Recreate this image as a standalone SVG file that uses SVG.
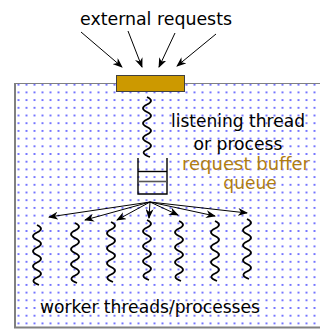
<svg xmlns="http://www.w3.org/2000/svg" width="320" height="330" viewBox="0 0 320 330">
<style>
text{font-family:"DejaVu Sans","Liberation Sans",sans-serif;font-size:17px;fill:#000}
.conn{stroke:#000;stroke-width:1;fill:none;marker-end:url(#ah)}
.sq{stroke:#000;stroke-width:1.8;fill:none}
.q{stroke:#000;stroke-width:1.4;fill:none}
.border{stroke:#808080;fill:none}
.gold{fill:#b07d12}
</style>
<defs>
<pattern id="dots" patternUnits="userSpaceOnUse" x="14.5" y="80.85" width="8" height="7.7">
<circle cx="4" cy="3.85" r="1" fill="#4646ff"/>
</pattern>
<marker id="ah" markerWidth="10" markerHeight="8" refX="9" refY="4" orient="auto" markerUnits="userSpaceOnUse">
<path d="M0,0 L10,4 L0,8 L3,4 Z" fill="#000"/>
</marker>
</defs>
<rect x="0" y="0" width="320" height="330" fill="#fff"/>
<g id="region">
<rect x="16" y="84" width="304" height="242" fill="url(#dots)"/>
<line class="border" x1="15" y1="83.5" x2="320" y2="83.5" stroke-width="1"/>
<line class="border" x1="15" y1="83" x2="15" y2="328" stroke-width="2"/>
<line class="border" x1="14" y1="327.5" x2="320" y2="327.5" stroke-width="2"/>
</g>
<g id="title"><text x="156" y="25" text-anchor="middle" textLength="152" lengthAdjust="spacingAndGlyphs">external requests</text></g>
<g id="socket"><rect x="116.5" y="75.5" width="68" height="16" fill="#cc9900" stroke="#404040" stroke-width="1"/></g>
<g id="listener">
<path class="sq" d="M147,97 q8,3.75 0,7.5 t0,7.5 t0,7.5 t0,7.5 t0,7.5 t0,7.5 t0,7.5 t3,7.5"/>
<text x="238" y="127" text-anchor="middle" textLength="134" lengthAdjust="spacingAndGlyphs">listening thread</text>
<text x="238" y="150" text-anchor="middle" textLength="89" lengthAdjust="spacingAndGlyphs">or process</text>
</g>
<g id="queue">
<path class="q" d="M138,158 V194 H167 V158"/>
<line class="q" x1="138" y1="171.5" x2="167" y2="171.5"/>
<line x1="138" y1="181.5" x2="167" y2="181.5" stroke="#555" stroke-width="1.6"/>
<text class="gold" x="246" y="170" text-anchor="middle" textLength="128" lengthAdjust="spacingAndGlyphs">request buffer</text>
<text class="gold" x="250" y="189" text-anchor="middle">queue</text>
</g>
<g id="workers">
<path class="sq" d="M37,225 q8,3.75 0,7.5 t0,7.5 t0,7.5 t0,7.5 t0,7.5 t0,7.5 t0,7.5 t2,7.5"/>
<path class="sq" d="M75,223 q8,3.75 0,7.5 t0,7.5 t0,7.5 t0,7.5 t0,7.5 t0,7.5 t0,7.5 t2,7.5"/>
<path class="sq" d="M111,222 q8,3.75 0,7.5 t0,7.5 t0,7.5 t0,7.5 t0,7.5 t0,7.5 t0,7.5 t2,7.5"/>
<path class="sq" d="M147,220 q8,3.75 0,7.5 t0,7.5 t0,7.5 t0,7.5 t0,7.5 t0,7.5 t0,7.5 t2,7.5"/>
<path class="sq" d="M179,221 q8,3.75 0,7.5 t0,7.5 t0,7.5 t0,7.5 t0,7.5 t0,7.5 t0,7.5 t2,7.5"/>
<path class="sq" d="M215,221 q8,3.75 0,7.5 t0,7.5 t0,7.5 t0,7.5 t0,7.5 t0,7.5 t0,7.5 t2,7.5"/>
<path class="sq" d="M247,219 q8,3.75 0,7.5 t0,7.5 t0,7.5 t0,7.5 t0,7.5 t0,7.5 t0,7.5 t2,7.5"/>
<text x="150" y="313" text-anchor="middle" textLength="220" lengthAdjust="spacingAndGlyphs">worker threads/processes</text>
</g>
<g id="connectors">
<line class="conn" x1="81" y1="32" x2="122" y2="67"/>
<line class="conn" x1="128" y1="31" x2="142" y2="67"/>
<line class="conn" x1="175" y1="33" x2="159" y2="67"/>
<line class="conn" x1="216" y1="34" x2="177" y2="66"/>
<line class="conn" x1="150" y1="202" x2="49" y2="217"/>
<line class="conn" x1="150" y1="202" x2="85" y2="220"/>
<line class="conn" x1="150" y1="202" x2="117" y2="220"/>
<line class="conn" x1="150" y1="202" x2="149" y2="218"/>
<line class="conn" x1="150" y1="202" x2="178" y2="215"/>
<line class="conn" x1="150" y1="202" x2="215" y2="216"/>
<line class="conn" x1="150" y1="202" x2="247" y2="213"/>
</g>
</svg>
